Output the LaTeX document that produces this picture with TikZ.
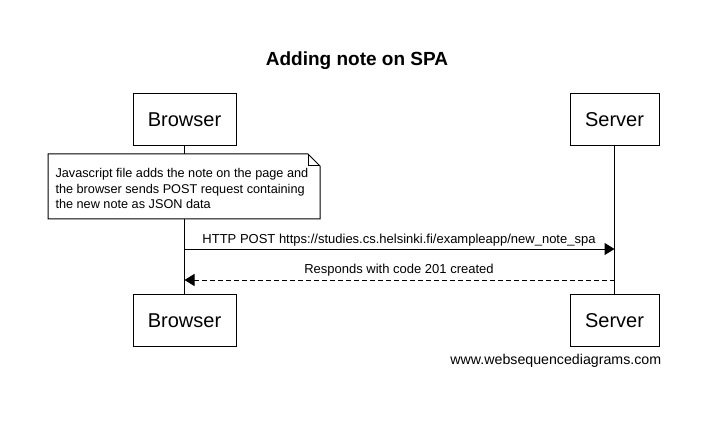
\documentclass[tikz,border=0pt]{standalone}
\usepackage{fontspec}
\setmainfont{Liberation Sans}
\usetikzlibrary{arrows.meta}

\begin{document}
\begin{tikzpicture}[x=1pt,y=-1pt,line width=1pt,
  actor/.style={draw,minimum height=52pt,inner sep=0pt,font=\fontsize{20}{24}\selectfont},
  msg/.style={font=\fontsize{13}{15.5}\selectfont},
  tip/.style={-{Triangle[length=10pt,width=12pt]}}]
\useasboundingbox (0,0) rectangle (722,430);
%\draw[step=10pt,gray,very thin] (0,0) grid (722,430); %background grid

\node[font=\bfseries\fontsize{19}{22}\selectfont] (title) at (357,61) {Adding note on SPA};

% actors top and bottom
\node[actor,minimum width=103pt] (browserTop) at (184.5,119.5) {Browser};
\node[actor,minimum width=89pt] (serverTop) at (614.5,119.5) {Server};
\node[actor,minimum width=103pt] (browserBot) at (184.5,320.5) {Browser};
\node[actor,minimum width=89pt] (serverBot) at (614.5,320.5) {Server};

% lifelines
\draw (browserTop) -- (browserBot);
\draw (serverTop) -- (serverBot);

% note
\draw[fill=white] (48,154) -- (308,154) -- (320,166) -- (320,219) -- (48,219) -- cycle;
\draw (308,154) -- (308,166) -- (320,166);
\node[msg,font=\fontsize{12.7}{15.5}\selectfont,align=left,anchor=north west,inner sep=0pt] (note) at (55,168)
  {Javascript file adds the note on the page and\\
   the browser sends POST request containing\\
   the new note as JSON data};

% messages
\coordinate (postB) at (184.5,249);
\coordinate (postS) at (614.5,249);
\coordinate (respS) at (614.5,280);
\coordinate (respB) at (184.5,280);
\draw[tip] (postB) -- (postS);
\draw[tip,dashed,dash pattern=on 5pt off 3pt] (respS) -- (respB);
\node[msg] (postText) at (399,240) {HTTP POST https://studies.cs.helsinki.fi/exampleapp/new\_note\_spa};
\node[msg] (respText) at (399,270) {Responds with code 201 created};

\node[msg,font=\fontsize{14.2}{16}\selectfont,anchor=east] (footer) at (665,361) {www.websequencediagrams.com};

\end{tikzpicture}
\end{document}
